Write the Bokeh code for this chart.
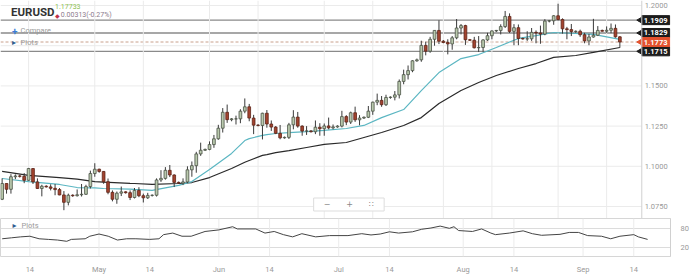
import math
import pandas as pd
from bokeh.plotting import figure
from bokeh.layouts import column
from bokeh.models import Range1d, FixedTicker, Span, Label
from bokeh.core.properties import value
from bokeh.embed import file_html
from bokeh.resources import INLINE

# ---------------- data ----------------
_days = pd.date_range("2020-04-07", "2020-09-17", freq="D")
dates = list(_days[_days.dayofweek != 5])   # Sun-Fri sessions

opens = [1.0795,1.0893,1.0857,1.0935,1.0940,1.0938,1.0913,1.0986,1.0903,1.0862,
         1.0876,1.0872,1.0863,1.0855,1.0822,1.0776,1.0820,1.0817,1.0823,1.0826,
         1.0874,1.0955,1.0982,1.0968,1.0904,1.0838,1.0795,1.0833,1.0841,1.0836,
         1.0806,1.0850,1.0817,1.0804,1.0819,1.0820,1.0915,1.0925,1.0975,1.0946,
         1.0900,1.0895,1.0903,1.0978,1.1004,1.1077,1.1100,1.1105,1.1135,1.1171,
         1.1237,1.1336,1.1290,1.1295,1.1295,1.1343,1.1370,1.1300,1.1256,1.1254,
         1.1330,1.1263,1.1244,1.1205,1.1177,1.1180,1.1258,1.1306,1.1250,1.1219,
         1.1220,1.1215,1.1243,1.1234,1.1251,1.1239,1.1245,1.1250,1.1309,1.1275,
         1.1333,1.1289,1.1300,1.1305,1.1343,1.1399,1.1410,1.1383,1.1428,1.1430,
         1.1444,1.1528,1.1570,1.1595,1.1656,1.1662,1.1752,1.1716,1.1790,1.1845,
         1.1778,1.1770,1.1761,1.1799,1.1860,1.1875,1.1787,1.1784,1.1737,1.1739,
         1.1786,1.1812,1.1842,1.1845,1.1869,1.1932,1.1839,1.1862,1.1795,1.1792,
         1.1793,1.1833,1.1829,1.1822,1.1903,1.1905,1.1936,1.1913,1.1855,1.1850,
         1.1838,1.1840,1.1818,1.1780,1.1804,1.1815,1.1845,1.1840,1.1846,1.1858,
         1.1805]
highs = [1.0925,1.0893,1.0951,1.0950,1.0948,1.0958,1.0990,1.0988,1.0925,1.0885,
         1.0882,1.0888,1.0890,1.0865,1.0846,1.0830,1.0826,1.0856,1.0890,1.0885,
         1.0973,1.1019,1.0985,1.0970,1.0924,1.0850,1.0843,1.0874,1.0845,1.0850,
         1.0865,1.0870,1.0830,1.0835,1.0825,1.0925,1.0976,1.0995,1.1008,1.0950,
         1.0905,1.0925,1.1000,1.1030,1.1090,1.1147,1.1110,1.1155,1.1195,1.1258,
         1.1362,1.1384,1.1300,1.1315,1.1355,1.1422,1.1388,1.1320,1.1262,1.1333,
         1.1350,1.1285,1.1250,1.1257,1.1185,1.1270,1.1349,1.1338,1.1255,1.1250,
         1.1225,1.1285,1.1268,1.1266,1.1303,1.1260,1.1255,1.1345,1.1318,1.1340,
         1.1371,1.1318,1.1310,1.1375,1.1402,1.1452,1.1437,1.1445,1.1435,1.1468,
         1.1540,1.1601,1.1627,1.1660,1.1670,1.1781,1.1775,1.1805,1.1845,1.1908,
         1.1785,1.1790,1.1810,1.1916,1.1885,1.1880,1.1792,1.1805,1.1810,1.1790,
         1.1830,1.1845,1.1848,1.1883,1.1966,1.1951,1.1884,1.1882,1.1800,1.1840,
         1.1860,1.1845,1.1875,1.1915,1.1910,1.1940,1.2011,1.1920,1.1867,1.1885,
         1.1845,1.1850,1.1830,1.1823,1.1917,1.1872,1.1850,1.1870,1.1888,1.1882,
         1.1810]
lows = [1.0790,1.0830,1.0830,1.0920,1.0930,1.0895,1.0910,1.0890,1.0860,1.0813,
        1.0868,1.0850,1.0820,1.0820,1.0727,1.0757,1.0810,1.0812,1.0812,1.0822,
        1.0862,1.0935,1.0960,1.0891,1.0826,1.0782,1.0767,1.0815,1.0830,1.0790,
        1.0800,1.0808,1.0775,1.0797,1.0812,1.0812,1.0903,1.0917,1.0933,1.0871,
        1.0890,1.0883,1.0895,1.0935,1.0960,1.1065,1.1095,1.1100,1.1115,1.1165,
        1.1210,1.1270,1.1280,1.1260,1.1268,1.1330,1.1280,1.1200,1.1248,1.1167,
        1.1240,1.1220,1.1200,1.1168,1.1172,1.1170,1.1230,1.1240,1.1190,1.1195,
        1.1210,1.1200,1.1190,1.1190,1.1230,1.1230,1.1240,1.1242,1.1256,1.1263,
        1.1276,1.1255,1.1295,1.1300,1.1320,1.1380,1.1370,1.1375,1.1420,1.1410,
        1.1422,1.1510,1.1540,1.1585,1.1650,1.1650,1.1690,1.1706,1.1750,1.1760,
        1.1765,1.1696,1.1725,1.1790,1.1820,1.1755,1.1780,1.1733,1.1711,1.1712,
        1.1780,1.1790,1.1835,1.1820,1.1860,1.1829,1.1753,1.1753,1.1788,1.1780,
        1.1780,1.1765,1.1762,1.1815,1.1895,1.1880,1.1905,1.1825,1.1790,1.1810,
        1.1830,1.1805,1.1765,1.1753,1.1800,1.1810,1.1838,1.1830,1.1828,1.1800,
        1.1737]
closes = [1.0893,1.0857,1.0935,1.0940,1.0938,1.0913,1.0986,1.0903,1.0862,1.0876,
          1.0872,1.0863,1.0855,1.0822,1.0776,1.0820,1.0817,1.0823,1.0826,1.0874,
          1.0955,1.0982,1.0968,1.0904,1.0838,1.0795,1.0833,1.0841,1.0836,1.0806,
          1.0850,1.0817,1.0804,1.0819,1.0820,1.0915,1.0925,1.0975,1.0946,1.0900,
          1.0895,1.0903,1.0978,1.1004,1.1077,1.1100,1.1105,1.1135,1.1171,1.1237,
          1.1336,1.1290,1.1295,1.1295,1.1343,1.1370,1.1300,1.1256,1.1254,1.1330,
          1.1263,1.1244,1.1205,1.1177,1.1180,1.1258,1.1306,1.1250,1.1219,1.1220,
          1.1215,1.1243,1.1234,1.1251,1.1239,1.1245,1.1250,1.1309,1.1275,1.1333,
          1.1289,1.1300,1.1305,1.1343,1.1399,1.1410,1.1383,1.1428,1.1430,1.1444,
          1.1528,1.1570,1.1595,1.1656,1.1662,1.1752,1.1716,1.1790,1.1845,1.1778,
          1.1770,1.1761,1.1799,1.1860,1.1875,1.1787,1.1784,1.1737,1.1739,1.1786,
          1.1812,1.1842,1.1845,1.1869,1.1932,1.1839,1.1862,1.1795,1.1792,1.1793,
          1.1833,1.1829,1.1822,1.1903,1.1905,1.1936,1.1913,1.1855,1.1850,1.1838,
          1.1840,1.1818,1.1780,1.1804,1.1815,1.1845,1.1840,1.1846,1.1858,1.1805,
          1.1773]

ma_dates = ["2020-04-07","2020-04-14","2020-04-22","2020-04-27","2020-05-01","2020-05-04",
            "2020-05-11","2020-05-12","2020-05-17","2020-05-24","2020-05-27","2020-06-01",
            "2020-06-07","2020-06-10","2020-06-11","2020-06-15","2020-06-16","2020-06-18",
            "2020-06-22","2020-06-26","2020-07-01","2020-07-07","2020-07-12","2020-07-16",
            "2020-07-22","2020-07-27","2020-07-31","2020-08-06","2020-08-11","2020-08-16",
            "2020-08-21","2020-08-26","2020-08-31","2020-09-06","2020-09-10","2020-09-17"]
ma_fast = [1.0924,1.0905,1.0887,1.0868,1.0866,1.0862,1.0858,1.0856,1.0850,1.0881,1.0905,1.0980,
           1.1080,1.1160,1.1172,1.1192,1.1197,1.1204,1.1210,1.1216,1.1223,1.1235,1.1254,1.1303,
           1.1353,1.1471,1.1583,1.1670,1.1695,1.1739,1.1795,1.1813,1.1832,1.1826,1.1820,1.1789]
ma_slow = [1.0968,1.0943,1.0930,1.0920,1.0905,1.0902,1.0894,1.0893,1.0887,1.0893,1.0899,1.0930,
           1.0986,1.1025,1.1036,1.1068,1.1073,1.1085,1.1098,1.1117,1.1136,1.1148,1.1179,1.1210,
           1.1254,1.1303,1.1391,1.1471,1.1521,1.1565,1.1608,1.1639,1.1677,1.1689,1.1708,1.1739]

rsi_dates = ["2020-04-07","2020-04-09","2020-04-12","2020-04-14","2020-04-16","2020-04-19",
             "2020-04-21","2020-04-23","2020-04-24","2020-04-28","2020-04-29","2020-05-01",
             "2020-05-04","2020-05-06","2020-05-08","2020-05-11","2020-05-14","2020-05-17",
             "2020-05-18","2020-05-20","2020-05-22","2020-05-25","2020-05-28","2020-06-01",
             "2020-06-04","2020-06-05","2020-06-10","2020-06-12","2020-06-15","2020-06-17",
             "2020-06-19","2020-06-22","2020-06-25","2020-06-29","2020-07-03","2020-07-07",
             "2020-07-09","2020-07-12","2020-07-14","2020-07-16","2020-07-20","2020-07-22",
             "2020-07-24","2020-07-27","2020-07-29","2020-07-30","2020-07-31","2020-08-04",
             "2020-08-06","2020-08-09","2020-08-10","2020-08-13","2020-08-17","2020-08-19",
             "2020-08-21","2020-08-26","2020-08-28","2020-08-31","2020-09-02","2020-09-06",
             "2020-09-08","2020-09-10","2020-09-14","2020-09-15","2020-09-17"]
rsi_vals = [46,49,52,54,46,44,42,38,44,46,54,61,54,42,46,46,44,46,59,64,54,54,69,74,
            84,77,77,64,69,59,52,62,52,56,56,62,58,61,68,64,68,76,80,86,79,84,72,69,
            77,64,59,64,71,62,57,60,66,66,56,54,46,54,59,52,44]

tick_dates = ["2020-04-14","2020-05-01","2020-05-14","2020-06-01","2020-06-14","2020-07-01",
              "2020-07-14","2020-08-01","2020-08-14","2020-09-01","2020-09-14"]
tick_labels = ["14","May","14","Jun","14","Jul","14","Aug","14","Sep","14"]

price_ticks = [1.075, 1.100, 1.125, 1.150, 1.175, 1.200]
levels = [1.1909, 1.1829, 1.1715]
last_price = 1.1773
symbol = "EURUSD"
quote = "1.17733"
change = "0.00313(-0.27%)"
rsi_levels = [20, 80]

# ---------------- helpers (pixel layout -> data coords) ----------------
DT = pd.DatetimeIndex(dates)
def idx_of(d):
    return int(DT.searchsorted(pd.Timestamp(d)))

def ix(px):
    return (px - 1.7) / 4.61

def pr(py):
    return 1.2 - (py - 5) / 1608.0

def rv(py):
    return 110 - (py - 218) * 3.0

FONT = "Roboto"
GRID = "#ebebeb"
EDGE = 670

x = list(range(len(dates)))
up = [c >= o for o, c in zip(opens, closes)]
tops = [max(o, c) for o, c in zip(opens, closes)]
bots = [min(o, c) for o, c in zip(opens, closes)]
fills = ["#b9c9ad" if u else "#a3432f" for u in up]
lines = ["#4a5245" if u else "#5e2418" for u in up]
tick_pos = [idx_of(d) for d in tick_dates]

# ---------------- main price panel ----------------
p1 = figure(width=700, height=218, x_range=Range1d(ix(0), ix(700)),
            y_range=Range1d(pr(218), pr(0)), output_backend="svg",
            toolbar_location=None, x_axis_location=None, y_axis_location=None,
            min_border_left=0, min_border_right=0, min_border_top=0, min_border_bottom=0)
p1.outline_line_color = None
p1.grid.visible = False

for t in tick_pos:
    p1.add_layout(Span(location=t, dimension="height", line_color=GRID, line_width=1, level="underlay"))
p1.segment(x0=[ix(0)] * len(price_ticks), x1=[ix(EDGE)] * len(price_ticks), y0=price_ticks,
           y1=price_ticks, line_color=GRID, line_width=1, level="underlay")
p1.add_layout(Span(location=ix(EDGE), dimension="height", line_color="#d0d0d0", line_width=1))
p1.segment(x0=[ix(0)] * len(levels), x1=[ix(EDGE)] * len(levels), y0=levels, y1=levels,
           line_color="#8a8a8a", line_width=1.4, level="underlay")
p1.segment(x0=[ix(0)], x1=[ix(EDGE)], y0=[last_price], y1=[last_price], line_color="#c9a08c",
           line_width=1, line_dash="3 2", level="underlay")

# price scale labels
p1.text(x=[ix(673)] * len(price_ticks), y=price_ticks, text=[f"{t:.4f}" for t in price_ticks],
        text_font=value(FONT), text_font_size="7.5px", text_color="#999999",
        text_baseline="middle", text_align="left")

p1.line([idx_of(d) for d in ma_dates], ma_slow, line_color="#2a2a2a", line_width=1.2)
p1.line([idx_of(d) for d in ma_dates], ma_fast, line_color="#5bb6c2", line_width=1.2)

p1.segment(x0=x, y0=lows, x1=x, y1=highs, line_color="#3a3a3a", line_width=1)
p1.vbar(x=x, width=0.62, top=tops, bottom=bots, fill_color=fills, line_color=lines, line_width=0.8)

# badges on the price scale
badge_y = levels + [last_price]
badge_col = ["#1c1c1c"] * len(levels) + ["#e4512e"]
p1.scatter(x=[ix(669)] * len(badge_y), y=badge_y, marker="triangle", angle=math.pi / 2, size=7,
           fill_color=badge_col, line_color=badge_col)
p1.rect(x=[ix(684.5)] * len(badge_y), y=badge_y, width=28, height=9, width_units="screen",
        height_units="screen", fill_color=badge_col, line_color=badge_col)
p1.text(x=[ix(684.5)] * len(badge_y), y=badge_y, text=[f"{v:.4f}" for v in badge_y],
        text_font=value(FONT), text_font_size="7.5px", text_font_style="bold", text_color="white",
        text_baseline="middle", text_align="center")

# header
p1.add_layout(Label(x=ix(11), y=pr(11), text=symbol, text_font=FONT, text_font_size="11.5px",
                    text_font_style="bold", text_color="#333333", text_baseline="middle"))
p1.add_layout(Label(x=ix(57), y=pr(6), text=quote, text_font=FONT, text_font_size="7px",
                    text_color="#8cc152", text_baseline="middle"))
p1.add_layout(Label(x=ix(57), y=pr(14.5), text="◆", text_font="DejaVu Sans", text_font_size="6px",
                    text_color="#c0304a", text_baseline="middle"))
p1.add_layout(Label(x=ix(63), y=pr(14.5), text=change, text_font=FONT, text_font_size="7px",
                    text_color="#8c7a8c", text_baseline="middle"))
p1.add_layout(Label(x=ix(12), y=pr(30), text="+", text_font=FONT, text_font_size="10px",
                    text_font_style="bold", text_color="#3b7dd8", text_baseline="middle"))
p1.add_layout(Label(x=ix(21), y=pr(30), text="Compare", text_font=FONT, text_font_size="7.5px",
                    text_color="#9a9a9a", text_baseline="middle"))
p1.add_layout(Label(x=ix(12), y=pr(42), text="▸", text_font="DejaVu Sans", text_font_size="8px",
                    text_color="#2f5f8f", text_baseline="middle"))
p1.add_layout(Label(x=ix(21), y=pr(42), text="Plots", text_font=FONT, text_font_size="7.5px",
                    text_color="#9a9a9a", text_baseline="middle"))
# zoom controls
p1.add_layout(Label(x=ix(364), y=pr(204), text="\u2003−\u2003\u2003+\u2003\u2003∷\u2003",
                    text_font="DejaVu Sans", text_font_size="8px", text_color="#888888",
                    text_align="center", text_baseline="middle", background_fill_color="white",
                    border_line_color="#dddddd", padding=2))

# ---------------- lower indicator panel ----------------
p2 = figure(width=700, height=58, x_range=Range1d(ix(0), ix(EDGE)), y_range=Range1d(rv(258), rv(218)),
            output_backend="svg", toolbar_location=None, y_axis_location="right",
            min_border_left=0, min_border_right=30, min_border_top=0, min_border_bottom=18)
p2.outline_line_color = "#d6d6d6"
p2.xgrid.visible = False
p2.ygrid.ticker = FixedTicker(ticks=rsi_levels)
p2.ygrid.grid_line_color = "#dcdcdc"
p2.yaxis.ticker = FixedTicker(ticks=rsi_levels)
p2.yaxis.major_label_text_font = FONT
p2.yaxis.major_label_text_font_size = "7.5px"
p2.yaxis.major_label_text_color = "#999999"
p2.yaxis.major_tick_line_color = None
p2.yaxis.minor_tick_line_color = None
p2.yaxis.axis_line_color = "#d0d0d0"
p2.yaxis.major_label_standoff = 4

p2.xaxis.ticker = FixedTicker(ticks=tick_pos)
p2.xaxis.major_label_overrides = {t: lab for t, lab in zip(tick_pos, tick_labels)}
p2.xaxis.major_label_text_font = FONT
p2.xaxis.major_label_text_font_size = "7.5px"
p2.xaxis.major_label_text_color = "#999999"
p2.xaxis.major_tick_line_color = None
p2.xaxis.minor_tick_line_color = None
p2.xaxis.axis_line_color = None
p2.xaxis.major_label_standoff = 2

for t in tick_pos:
    p2.add_layout(Span(location=t, dimension="height", line_color=GRID, line_width=1, level="underlay"))

p2.line([idx_of(d) for d in rsi_dates], rsi_vals, line_color="#444444", line_width=1)

p2.add_layout(Label(x=ix(12), y=rv(225), text="▸", text_font="DejaVu Sans", text_font_size="8px",
                    text_color="#2f5f8f", text_baseline="middle"))
p2.add_layout(Label(x=ix(21), y=rv(225), text="Plots", text_font=FONT, text_font_size="7.5px",
                    text_color="#9a9a9a", text_baseline="middle"))

layout = column(p1, p2, spacing=0)
open("out.html", "w").write(file_html(layout, INLINE))
